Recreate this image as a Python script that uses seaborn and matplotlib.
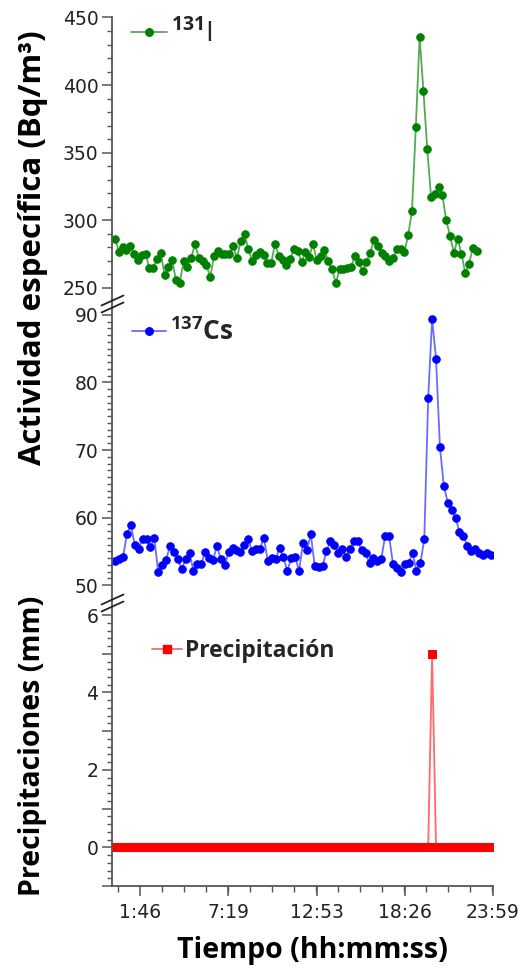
import numpy as np
import pandas as pd
import seaborn as sns
import matplotlib
matplotlib.use("Agg")
import matplotlib.pyplot as plt
from matplotlib.lines import Line2D
from matplotlib.ticker import FixedLocator, FixedFormatter

# ---------------- data ----------------
i131_values = [286.3, 276.9, 280.1, 278.3, 281.4, 275.1, 270.5, 274.2, 275.1, 264.6,
               264.6, 271.3, 276.0, 259.6, 265.3, 270.4, 256.0, 253.9, 269.8, 265.3,
               272.5, 282.3, 272.0, 269.9, 266.8, 258.1, 273.7, 277.2, 275.3, 275.3,
               274.9, 280.7, 272.1, 284.5, 290.2, 278.6, 270.3, 274.7, 276.5, 274.2,
               268.5, 268.5, 282.3, 273.9, 270.7, 267.0, 271.3, 278.7, 277.4, 268.9,
               276.8, 273.2, 282.5, 270.4, 273.8, 278.2, 269.8, 263.8, 253.8, 263.8,
               264.1, 265.0, 265.5, 273.6, 268.9, 262.5, 269.1, 275.7, 285.3, 281.4,
               275.9, 273.6, 270.3, 272.3, 278.6, 278.6, 276.5, 289.2, 307.0, 368.7,
               435.7, 396.0, 353.0, 317.6, 319.8, 324.3, 318.4, 299.9, 288.6, 275.9,
               286.4, 275.2, 261.0, 268.0, 279.7, 277.5]

cs137_values = [53.6, 53.9, 54.1, 57.6, 58.9, 55.9, 55.4, 56.8, 56.8, 55.6,
                56.9, 51.9, 52.9, 53.7, 55.8, 54.9, 53.8, 52.4, 53.8, 54.7,
                52.1, 53.1, 53.1, 54.9, 54.0, 53.7, 55.8, 53.8, 52.9, 54.9,
                55.5, 55.2, 54.9, 56.0, 56.8, 55.0, 55.4, 55.4, 57.0, 53.6,
                54.0, 53.8, 55.5, 54.1, 52.1, 54.0, 54.1, 52.1, 56.2, 55.2,
                57.5, 52.8, 52.6, 52.8, 55.0, 56.5, 55.9, 54.8, 55.3, 54.2,
                55.3, 56.5, 56.5, 55.2, 54.7, 53.2, 54.0, 53.5, 53.8, 57.3,
                57.3, 53.1, 52.5, 51.9, 53.1, 53.2, 54.8, 52.1, 53.2, 56.8,
                77.7, 89.4, 83.5, 70.4, 64.7, 62.2, 61.1, 59.9, 57.9, 57.3,
                55.8, 55.1, 55.3, 54.8, 54.4, 54.8, 54.4]

precip_values = [0, 0, 0, 0, 0, 0, 0, 0, 0, 0,
                 0, 0, 0, 0, 0, 0, 0, 0, 0, 0,
                 0, 0, 0, 0, 0, 0, 0, 0, 0, 0,
                 0, 0, 0, 0, 0, 0, 0, 0, 0, 0,
                 0, 0, 0, 0, 0, 0, 0, 0, 0, 0,
                 0, 0, 0, 0, 0, 0, 0, 0, 0, 0,
                 0, 0, 0, 0, 0, 0, 0, 0, 0, 0,
                 0, 0, 0, 0, 0, 0, 0, 0, 0, 0,
                 0, 5, 0, 0, 0, 0, 0, 0, 0, 0,
                 0, 0, 0, 0, 0, 0, 0]

# sampling grids (minutes after midnight)
i131_start_min, i131_step_min = 10.5, 14.4
cs_start_min, cs_step_min = 11.0, 14.8

xtick_minutes = [106, 439.25, 772.5, 1105.75, 1439]
xtick_labels = ["1:46", "7:19", "12:53", "18:26", "23:59"]

i131_time = i131_start_min + i131_step_min * np.arange(len(i131_values))
cs_time = cs_start_min + cs_step_min * np.arange(len(cs137_values))

df_i = pd.DataFrame({"t": i131_time, "v": i131_values})
df_cs = pd.DataFrame({"t": cs_time, "v": cs137_values})
df_p = pd.DataFrame({"t": cs_time, "v": precip_values})

# ---------------- style ----------------
sns.set_theme(style="ticks")
plt.rcParams["font.family"] = ["DejaVu Sans"]
plt.rcParams["mathtext.fontset"] = "custom"
plt.rcParams["mathtext.rm"] = "Open Sans"
plt.rcParams["mathtext.bf"] = "Open Sans:bold"

W, H = 522, 972
fig = plt.figure(figsize=(W / 100, H / 100), dpi=100)
L, R = 112.3, 492.7

def add_ax(top, bottom):
    return fig.add_axes([L / W, 1 - bottom / H, (R - L) / W, (bottom - top) / H])

ax1 = add_ax(17.5, 300)
ax2 = add_ax(300, 600)
ax3 = add_ax(600, 886)

spine_col = "#555555"
lab_col = "#222222"

def style_ax(ax, bottom_axis=False):
    for s in ["top", "right"]:
        ax.spines[s].set_visible(False)
    ax.spines["left"].set_color(spine_col)
    ax.spines["left"].set_linewidth(1.3)
    if bottom_axis:
        ax.spines["bottom"].set_color(spine_col)
        ax.spines["bottom"].set_linewidth(1.3)
    else:
        ax.spines["bottom"].set_visible(False)
        ax.tick_params(axis="x", which="both", bottom=False, labelbottom=False)
    ax.tick_params(axis="y", which="major", length=7, width=1.1, color=spine_col,
                   labelsize=13.5, labelcolor=lab_col, pad=3, direction="out")
    ax.tick_params(axis="y", which="minor", length=3.5, width=1.0, color=spine_col,
                   direction="out")
    ax.set_facecolor("white")
    ax.set_xlim(0, 1439)
    ax.set_xlabel("")
    ax.set_ylabel("")

# I-131
sns.lineplot(data=df_i, x="t", y="v", ax=ax1, color="#55aa55", lw=1.3,
             marker="o", markersize=5.4, markerfacecolor="#008000",
             markeredgecolor="#008000", legend=False)
ax1.set_ylim(241.1, 450)
ax1.yaxis.set_major_locator(FixedLocator([250, 300, 350, 400, 450]))
ax1.yaxis.set_minor_locator(FixedLocator(np.arange(250, 451, 10)))
style_ax(ax1)

# Cs-137
sns.lineplot(data=df_cs, x="t", y="v", ax=ax2, color="#6b6bff", lw=1.3,
             marker="o", markersize=5.4, markerfacecolor="#0000ff",
             markeredgecolor="#0000ff", legend=False)
ax2.set_ylim(47.78, 92.22)
ax2.yaxis.set_major_locator(FixedLocator([50, 60, 70, 80, 90]))
ax2.yaxis.set_minor_locator(FixedLocator(np.arange(50, 91, 1)))
style_ax(ax2)

# Precipitation
sns.lineplot(data=df_p, x="t", y="v", ax=ax3, color="#ff6b6b", lw=1.3,
             marker="s", markersize=5.3, markerfacecolor="#ff0000",
             markeredgecolor="#ff0000", legend=False)
ax3.set_ylim(-1.0, 6.39)
ax3.yaxis.set_major_locator(FixedLocator([-1, 0, 1, 2, 3, 4, 5, 6]))
ax3.yaxis.set_major_formatter(FixedFormatter(["", "0", "", "2", "", "4", "", "6"]))
ax3.yaxis.set_minor_locator(FixedLocator(np.arange(-1, 6.01, 0.2)))
style_ax(ax3, bottom_axis=True)
ax3.xaxis.set_major_locator(FixedLocator(xtick_minutes))
ax3.xaxis.set_major_formatter(FixedFormatter(xtick_labels))
ax3.xaxis.set_minor_locator(FixedLocator(np.arange(22.75, 1440, 83.25)))
ax3.tick_params(axis="x", which="major", length=7, width=1.1, color=spine_col,
                labelsize=13.5, labelcolor=lab_col, pad=5, direction="out")
ax3.tick_params(axis="x", which="minor", length=4.5, width=1.0, color=spine_col,
                direction="out")

# axis-break marks on the left spine
def break_mark(ypix):
    for dy in (-3.5, 3.5):
        x0, x1 = 101.5, 123.5
        y0, y1 = ypix + dy + 5, ypix + dy - 5
        fig.add_artist(Line2D([x0 / W, x1 / W], [1 - y0 / H, 1 - y1 / H],
                              color="#222222", lw=1.3, transform=fig.transFigure))

break_mark(304)
break_mark(603)

# legends
def add_legend(ax, handle, label, xpix, ypix, prop):
    return ax.legend([handle], [label], loc="center left",
                     bbox_to_anchor=(xpix / W, 1 - ypix / H),
                     bbox_transform=fig.transFigure, frameon=False,
                     borderpad=0, borderaxespad=0, handlelength=1.3,
                     handletextpad=0.15, prop=prop)

h1 = Line2D([], [], color="#55aa55", lw=1.3, marker="o", markersize=5.4,
            markerfacecolor="#008000", markeredgecolor="#008000")
add_legend(ax1, h1, r"$^{\mathbf{131}}$I", 131, 34,
           {"family": "Open Sans", "weight": "normal", "size": 20})
h2 = Line2D([], [], color="#6b6bff", lw=1.3, marker="o", markersize=5.4,
            markerfacecolor="#0000ff", markeredgecolor="#0000ff")
add_legend(ax2, h2, r"$^{\mathbf{137}}$Cs", 132, 332,
           {"family": "Open Sans", "weight": "bold", "size": 19})
h3 = Line2D([], [], color="#ff6b6b", lw=1.3, marker="s", markersize=5.3,
            markerfacecolor="#ff0000", markeredgecolor="#ff0000")
add_legend(ax3, h3, "Precipitación", 152, 651,
           {"family": "Open Sans", "weight": "bold", "size": 16.5})

# axis titles
fig.text(33 / W, 1 - 248 / H, "Actividad específica (Bq/m³)", rotation=90,
         ha="center", va="center", family="Open Sans", weight="bold",
         size=22.5, color="black")
fig.text(33 / W, 1 - 746 / H, "Precipitaciones (mm)", rotation=90,
         ha="center", va="center", family="Open Sans", weight="bold",
         size=20.5, color="black")
fig.text(312.5 / W, 1 - 950 / H, "Tiempo (hh:mm:ss)", ha="center", va="center",
         family="Open Sans", weight="bold", size=20.5, color="black")

fig.savefig("out.png", dpi=100, facecolor="white")
